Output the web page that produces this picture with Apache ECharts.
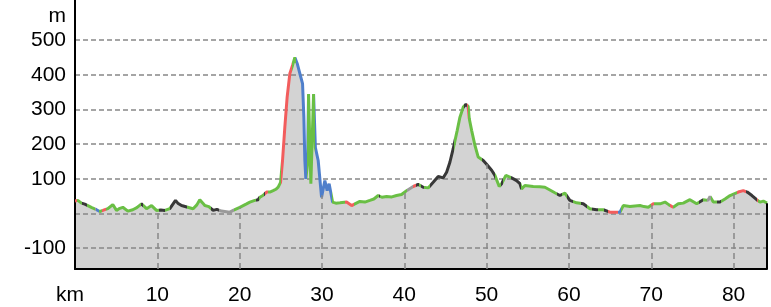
<!DOCTYPE html>
<html>
<head>
<meta charset="utf-8">
<script src="https://cdn.jsdelivr.net/npm/echarts@6/dist/echarts.min.js"></script>
<style>
  html, body { margin: 0; padding: 0; background: #fff; }
  #chart { width: 771px; height: 307px; }
</style>
</head>
<body>
<div id="chart"></div>
<script>
// distance along the route (km) and elevation (m)
var km = [
  0, 0.1, 0.34, 0.79, 1.19, 1.56, 2.04, 2.61, 3.01, 3.38, 3.62, 3.99, 4.59, 5.04, 5.44, 5.81,
  6.42, 7.02, 7.51, 8.08, 8.69, 9.3, 9.9, 10.43, 10.91, 11.52, 12.21, 12.49, 12.94, 13.58,
  14.35, 14.8, 15.16, 15.53, 15.77, 16.26, 16.78, 17.23, 17.8, 18.81, 19.21, 20.02, 20.84,
  21.24, 21.85, 22.25, 22.46, 22.82, 23.27, 23.67, 24.07, 24.4, 24.68, 24.97, 25.21, 25.49,
  25.77, 26.1, 26.43, 26.71, 26.99, 27.31, 27.64, 27.8, 27.92, 28.04, 28.25, 28.37, 28.65,
  28.98, 29.2, 29.54, 29.95, 30.35, 30.63, 30.87, 31.29, 31.69, 32.18, 32.99, 33.6, 34.0,
  34.6, 35.21, 35.82, 36.3, 36.83, 37.28, 37.85, 38.49, 39.06, 39.67, 40.28, 41.08, 41.69,
  42.3, 42.9, 43.51, 44.12, 44.73, 45.14, 45.54, 45.94, 46.43, 46.76, 47.16, 47.49, 47.76,
  47.89, 48.18, 48.58, 48.98, 49.59, 50.0, 50.61, 51.01, 51.53, 51.82, 52.34, 53.04, 53.64,
  54.05, 54.25, 54.65, 55.66, 56.47, 57.08, 57.69, 58.29, 58.9, 59.51, 60.11, 60.93, 61.74,
  62.55, 63.36, 64.17, 64.98, 65.8, 66.2, 66.6, 67.41, 68.02, 68.63, 69.12, 69.64, 70.25,
  71.06, 71.67, 72.16, 72.67, 73.28, 73.89, 74.7, 75.52, 76.32, 76.89, 77.14, 77.54, 78.35,
  78.96, 79.57, 80.57, 81.18, 81.66, 82.23, 82.81, 83.21, 83.61, 84.06
];
var elevation = [
  36, 33, 38, 30, 27, 23, 17, 11, 6, 9, 9, 14, 26, 9, 15, 18,
  7, 11, 17, 28, 14, 23, 9, 10, 9, 14, 38, 30, 23, 19,
  14, 25, 40, 30, 23, 20, 9, 12, 7, 4, 9, 18, 28,
  33, 38, 40, 47, 52, 62, 62, 66, 70, 76, 90, 153, 249,
  336, 404, 428, 450, 433, 404, 375, 278, 153, 100, 144, 345, 86,
  345, 190, 153, 47, 95, 66, 86, 33, 30, 31, 33, 23, 28,
  35, 33, 38, 42, 52, 47, 49, 48, 52, 55, 66, 78, 84,
  76, 74, 90, 107, 103, 119, 148, 187, 240, 278, 307, 315, 309,
  274, 240, 197, 163, 153, 142, 125, 110, 78, 86, 110, 103, 95,
  86, 71, 81, 78, 77, 76, 68, 60, 52, 59, 38, 31, 28,
  14, 11, 11, 4, 4, 4, 23, 20, 22, 23, 20, 18, 28,
  28, 33, 25, 18, 28, 30, 40, 28, 40, 38, 49, 33, 33,
  42, 52, 62, 66, 62, 52, 40, 33, 36, 30
];

// track colouring: segment start (km) and colour key
var segStart = [
  0, 0.3, 0.9, 1.4, 2.4, 2.6, 2.9, 3.3, 3.8, 8.0, 8.3, 10.2, 10.9, 11.6, 13.6, 16.5, 17.5,
  19.3, 22.0, 22.3, 22.9, 23.1, 23.4, 25.0, 26.4, 26.9, 28.2, 29.1, 31.2, 32.8, 33.9, 36.9,
  37.1, 40.3, 41.0, 41.4, 41.8, 42.0, 42.4, 43.1, 46.0, 47.2, 47.6, 47.8, 49.5, 51.0, 51.7,
  52.0, 53.0, 54.2, 58.5, 59.2, 59.8, 60.5, 61.5, 62.2, 62.8, 63.5, 64.2, 64.8, 66.0, 66.3,
  70.0, 70.3, 72.3, 72.7, 75.8, 76.3, 76.8, 77.2, 78.0, 78.5, 80.4, 81.5, 82.8, 83.0
];
var segType = [
  'R', 'G', 'K', 'G', 'S', 'B', 'G', 'R', 'G', 'K', 'G', 'K', 'G', 'K', 'G', 'K', 'S',
  'G', 'K', 'G', 'K', 'R', 'G', 'R', 'G', 'B', 'G', 'B', 'G', 'R', 'G', 'K',
  'G', 'S', 'R', 'K', 'G', 'K', 'G', 'K', 'G', 'K', 'R', 'G', 'K', 'G', 'K',
  'G', 'K', 'G', 'K', 'G', 'K', 'G', 'K', 'G', 'K', 'G', 'K', 'R', 'B', 'G',
  'R', 'G', 'R', 'G', 'K', 'G', 'S', 'G', 'K', 'G', 'R', 'K', 'R', 'G'
];
var typeColor = { G: '#6abf45', K: '#383838', R: '#f25d5d', B: '#4f7fcb', S: '#9a9a9a' };

var xTicks = [10, 20, 30, 40, 50, 60, 70, 80];
var yTicks = [-100, 0, 100, 200, 300, 400, 500];

var FONT = 'Liberation Sans, Arial, sans-serif';
var FS = 21;

var points = [];
for (var i = 0; i < km.length; i++) {
  points.push([km[i], elevation[i]]);
}
var lastKm = km[km.length - 1];

// height of the profile at a given km (to stop the vertical grid at the ground)
function groundAt(d) {
  for (var i = 1; i < km.length; i++) {
    if (km[i] >= d) {
      var t = (d - km[i - 1]) / (km[i] - km[i - 1]);
      return elevation[i - 1] + t * (elevation[i] - elevation[i - 1]);
    }
  }
  return elevation[elevation.length - 1];
}

var pieces = [];
for (var i = 0; i < segStart.length; i++) {
  var p = { gte: segStart[i], color: typeColor[segType[i]] };
  if (i < segStart.length - 1) p.lt = segStart[i + 1];
  pieces.push(p);
}

var vLines = [];
for (var i = 0; i < xTicks.length; i++) {
  vLines.push([
    { coord: [xTicks[i], -160] },
    { coord: [xTicks[i], groundAt(xTicks[i])] }
  ]);
}
var edgeLine = [[
  { coord: [lastKm, -160] },
  { coord: [lastKm, elevation[elevation.length - 1]] }
]];

var myChart = echarts.init(document.getElementById('chart'));
var option = {
  animation: false,
  grid: { left: 75, right: 4, top: 0, bottom: 38 },
  xAxis: {
    type: 'value',
    min: 0,
    max: 'dataMax',
    interval: 10,
    z: 4,
    axisLine: { show: true, onZero: false, lineStyle: { color: '#000', width: 2 } },
    axisTick: { show: false },
    splitLine: { show: false },
    axisLabel: {
      showMaxLabel: false,
      margin: 16,
      color: '#000',
      fontSize: FS,
      fontFamily: FONT,
      formatter: function (v) { return v === 0 ? '{k|km}' : String(v); },
      rich: { k: { fontSize: FS, fontFamily: FONT, color: '#000', padding: [0, 10, 0, 0] } }
    }
  },
  yAxis: {
    type: 'value',
    min: -160,
    max: 616,
    z: 2,
    name: 'm',
    nameLocation: 'end',
    nameGap: -16,
    nameTextStyle: { color: '#000', fontSize: FS, fontFamily: FONT, align: 'right', verticalAlign: 'middle', padding: [0, 9, 0, 0] },
    axisLine: { show: true, onZero: false, lineStyle: { color: '#000', width: 2 } },
    axisTick: { show: false, customValues: yTicks },
    splitLine: { show: true, lineStyle: { color: '#888', width: 1.5, type: [5, 3] } },
    axisLabel: {
      customValues: yTicks,
      margin: 9,
      color: '#000',
      fontSize: FS,
      fontFamily: FONT,
      formatter: function (v) { return v === 0 ? '' : String(v); }
    }
  },
  visualMap: {
    show: false,
    type: 'piecewise',
    seriesIndex: 1,
    dimension: 0,
    pieces: pieces
  },
  series: [
    {
      type: 'line',
      data: points,
      z: 1,
      showSymbol: false,
      silent: true,
      lineStyle: { width: 0 },
      areaStyle: { color: '#d3d3d3', opacity: 1, origin: 'start' }
    },
    {
      type: 'line',
      data: points,
      z: 3,
      showSymbol: false,
      lineStyle: { width: 3 },
      markLine: {
        silent: true,
        symbol: 'none',
        label: { show: false },
        lineStyle: { color: '#888', width: 1.5, type: [6, 4] },
        data: vLines
      }
    },
    {
      type: 'line',
      data: [],
      z: 4,
      markLine: {
        silent: true,
        symbol: 'none',
        label: { show: false },
        lineStyle: { color: '#000', width: 2, type: 'solid' },
        data: edgeLine
      }
    }
  ]
};
myChart.setOption(option);
</script>
</body>
</html>
